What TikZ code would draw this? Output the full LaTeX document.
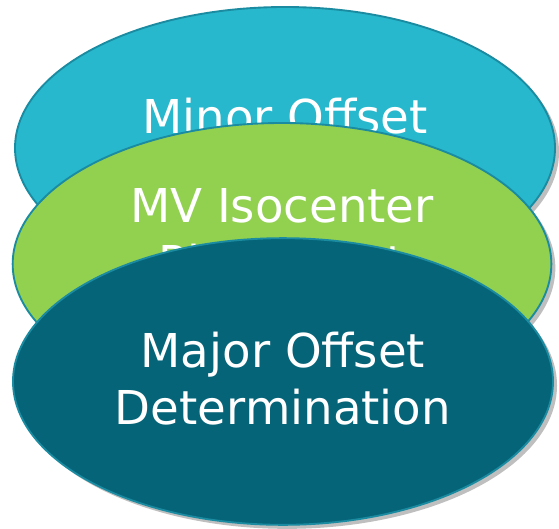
\documentclass[tikz,border=0pt]{standalone}
\usepackage{fontspec}
\setmainfont{DejaVu Sans}
\usetikzlibrary{shapes.geometric,shadows}
\definecolor{cyanF}{HTML}{27B8CD}
\definecolor{greenF}{HTML}{92D050}
\definecolor{darkF}{HTML}{066479}
\definecolor{rimC}{HTML}{1A8BA0}
\begin{document}
\begin{tikzpicture}[x=0.75pt,y=-0.75pt,
 oval/.style={ellipse, draw=rimC, line width=1.4pt, minimum width=405pt, inner sep=0pt,
   drop shadow={shadow xshift=3pt, shadow yshift=-3pt, opacity=0.25, fill=black}},
 lbl/.style={anchor=base, text=white, font=\fontsize{35}{42}\selectfont, inner sep=0pt}]
\useasboundingbox[fill=white] (0,0) rectangle (559,528);
\node[oval, fill=cyanF, minimum height=211.5pt] (minor) at (285,148) {};
\node[lbl] (minorT) at (285,133) {Minor Offset};
\node[oval, fill=greenF, minimum height=211.5pt, minimum width=404pt] (mv) at (282,264) {};
\node[lbl] (mvT1) at (282,222) {MV Isocenter};
\node[lbl] (mvT2) at (282,279) {Placement};
\node[oval, fill=darkF, minimum height=215pt] (major) at (283,381.5) {};
\node[lbl] (majorT1) at (283,367) {Major Offset};
\node[lbl] (majorT2) at (283,424) {Determination};
\end{tikzpicture}
\end{document}
